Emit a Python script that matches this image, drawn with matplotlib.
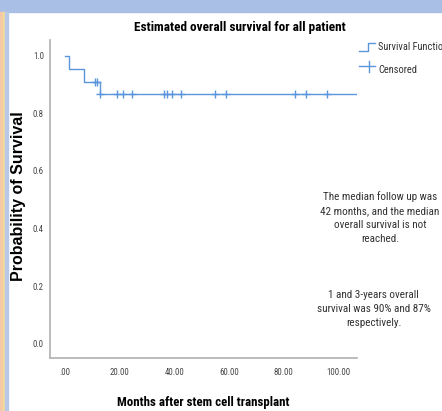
# Kaplan-Meier curve of overall survival after stem cell transplant

import matplotlib.pyplot as plt
from matplotlib.lines import Line2D
from matplotlib.patches import Rectangle

# step function: event times (months) and survival after each step
step_times = [0.0, 1.5, 7.0, 12.8, 107.0]
step_surv = [1.0, 0.955, 0.91, 0.868, 0.868]

# censored observations (months) and the survival level where they sit
censor_times = [11.0, 11.7, 13.0, 19.0, 21.3, 24.5, 36.4, 37.3, 39.2, 42.5,
                55.0, 59.0, 84.4, 88.4, 95.8]
censor_surv = [0.91, 0.91] + [0.868] * 13

x_ticks = [0, 20, 40, 60, 80, 100]
x_tick_labels = [".00", "20.00", "40.00", "60.00", "80.00", "100.00"]
y_ticks = [0.0, 0.2, 0.4, 0.6, 0.8, 1.0]

narrow = ["Roboto Condensed", "DejaVu Sans"]
curve_color = "#5b96dc"
text_gray = "#333333"

fig = plt.figure(figsize=(4.42, 4.11), dpi=100)

# window frame strips around the chart
fig.add_artist(Rectangle((0, 0.972), 1, 0.028, transform=fig.transFigure,
                         color="#a9bfe6", zorder=0))
fig.add_artist(Rectangle((0, 0), 0.007, 0.972, transform=fig.transFigure,
                         color="#f5c9a6", zorder=0))
fig.add_artist(Rectangle((0.007, 0), 0.005, 0.972, transform=fig.transFigure,
                         color="#f3dc9a", zorder=0))
fig.add_artist(Rectangle((0.012, 0), 0.007, 0.972, transform=fig.transFigure,
                         color="#b9c8e6", zorder=0))

ax = fig.add_axes([0.113, 0.129, 0.695, 0.774])
ax.step(step_times, step_surv, where="post", color=curve_color, lw=1.0)
ax.plot(censor_times, censor_surv, "+", color=curve_color, ms=5.5, mew=1.0)

ax.set_xlim(-5.5, 107)
ax.set_ylim(-0.05, 1.055)
ax.set_xticks(x_ticks)
ax.set_xticklabels(x_tick_labels, family=narrow, fontsize=6.3, color="#444444")
ax.set_yticks(y_ticks)
ax.set_yticklabels([f"{v:.1f}" for v in y_ticks], family=narrow, fontsize=6.3,
                   color="#444444")
ax.tick_params(axis="x", length=0, pad=7)
ax.tick_params(axis="y", length=0, pad=4.3)
for side in ["top", "right"]:
    ax.spines[side].set_visible(False)
for side in ["left", "bottom"]:
    ax.spines[side].set_color("#b0b0b0")
    ax.spines[side].set_linewidth(1.2)

fig.text(0.543, 0.934, "Estimated overall survival for all patient",
         ha="center", va="center", family=narrow, fontsize=9.5,
         fontweight="bold")
fig.text(0.46, 0.02, "Months after stem cell transplant", ha="center",
         va="center", family=narrow, fontsize=9.3, fontweight="bold")
fig.text(0.041, 0.523, "Probability of Survival", ha="center", va="center",
         rotation=90, family=["Liberation Sans", "DejaVu Sans"], fontsize=11.5,
         fontweight="bold")

# notes beside the curve
fig.text(0.86, 0.47, "The median follow up was\n42 months, and the median\n"
         "overall survival is not\nreached.", ha="center", va="center",
         family=narrow, fontsize=8, color=text_gray, linespacing=1.5)
fig.text(0.845, 0.248, "1 and 3-years overall\nsurvival was 90% and 87%\n"
         "respectively.", ha="center", va="center", family=narrow,
         fontsize=8, color=text_gray, linespacing=1.5)

# legend drawn by hand: step glyph and a censor cross
fig.add_artist(Line2D([0.812, 0.833, 0.833, 0.848],
                      [0.876, 0.876, 0.895, 0.895],
                      transform=fig.transFigure, color=curve_color, lw=1.0))
fig.add_artist(Line2D([0.812, 0.848], [0.839, 0.839],
                      transform=fig.transFigure, color=curve_color, lw=1.0))
fig.add_artist(Line2D([0.835, 0.835], [0.825, 0.852],
                      transform=fig.transFigure, color=curve_color, lw=1.0))
fig.text(0.855, 0.886, "Survival Function", va="center", family=narrow,
         fontsize=7.5, color=text_gray)
fig.text(0.855, 0.83, "Censored", va="center", family=narrow, fontsize=7.5,
         color=text_gray)

fig.savefig("out.png", dpi=100)
